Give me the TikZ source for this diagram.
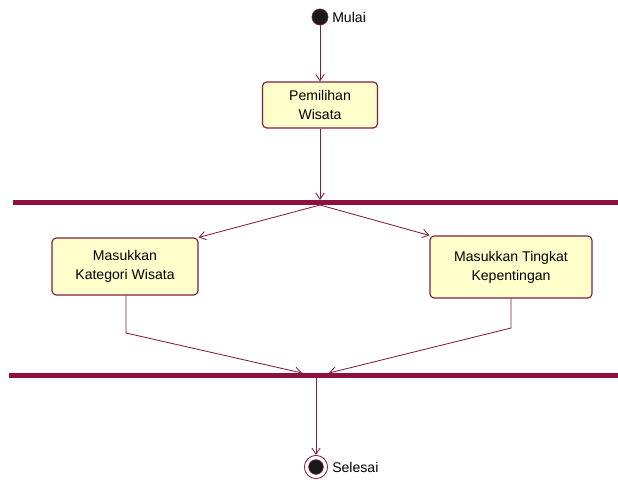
\documentclass[tikz,border=0pt]{standalone}
\usepackage{fontspec}
\setmainfont{Liberation Sans}
\usepackage{tikz}
\usetikzlibrary{arrows.meta}
\definecolor{umlred}{RGB}{142,16,62}
\definecolor{umlline}{RGB}{128,30,60}
\definecolor{umlfill}{RGB}{255,255,204}
\tikzstyle{action} = [rectangle, rounded corners=3pt, draw=umlline, fill=umlfill, thick, align=center, inner sep=0pt, font=\fontsize{10}{13.5}\selectfont]
\tikzstyle{bar} = [rectangle, fill=umlred, inner sep=0pt, minimum height=4pt]
\tikzstyle{state} = [circle, fill=black!90, draw=umlline, inner sep=0pt]
\tikzstyle{lbl} = [font=\fontsize{10}{12}\selectfont, anchor=west, inner sep=0pt]
\tikzstyle{arrow} = [umlline, semithick, -{Straight Barb[length=4.5pt, width=6pt]}]

\begin{document}
\begin{tikzpicture}[x=0.025cm, y=-0.025cm]
			\useasboundingbox (0,0) rectangle (618,483);
			\node (start) [state, minimum size=11.5pt] at (320,17) {};
			\node [lbl] at (332,17) {Mulai};
			\node (pilih) [action, minimum width=115*0.025cm, minimum height=46*0.025cm] at (320,105) {Pemilihan\\Wisata};
			\node (fork) [bar, minimum width=605*0.025cm] at (315.5,202.5) {};
			\node (kategori) [action, minimum width=146*0.025cm, minimum height=57*0.025cm] at (125,266.5) {Masukkan\\Kategori Wisata};
			\node (tingkat) [action, minimum width=162*0.025cm, minimum height=62*0.025cm] at (511,267) {Masukkan Tingkat\\Kepentingan};
			\node (join) [bar, minimum width=609*0.025cm] at (313.5,375.5) {};
			\node (end) [circle, draw=umlline, semithick, minimum size=16.5pt, inner sep=0pt] at (316,467) {};
			\node (endin) [state, minimum size=10.5pt] at (end) {};
			\node [lbl] at (332,467) {Selesai};
			\coordinate (forkin) at (320,200);
			\coordinate (forkout) at (320,205);
			\coordinate (kbend) at (126,333);
			\coordinate (tbend) at (511,328);
			\coordinate (joinl) at (302,373);
			\coordinate (joinr) at (329,373);
			\coordinate (joinout) at (316,378);
			\draw [arrow] (start) -- (pilih);
			\draw [arrow] (pilih) -- (forkin);
			\draw [arrow] (forkout) -- (kategori.north east);
			\draw [arrow] (forkout) -- (tingkat.north west);
			\draw [arrow] (kategori.south -| kbend) -- (kbend) -- (joinl);
			\draw [arrow] (tingkat.south -| tbend) -- (tbend) -- (joinr);
			\draw [arrow] (joinout) -- (end);
		\end{tikzpicture}
\end{document}
